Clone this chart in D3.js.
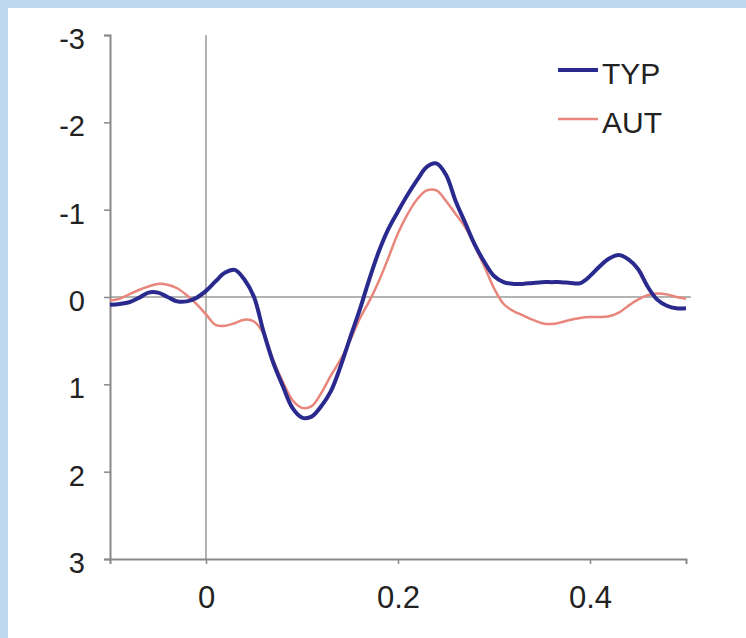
<!DOCTYPE html>
<html>
<head>
<meta charset="utf-8">
<title>TYP vs AUT</title>
<script src="https://d3js.org/d3.v7.min.js"></script>
<style type="text/css">
html, body {
	margin: 0;
	padding: 0;
	background: #bed8ef;
}
svg text {
	font-family: "Liberation Sans", Arial, sans-serif;
	fill: #222;
}
</style>
</head>
<body>
<div id="chart"></div>
<script type="text/javascript">
// time (s) sampled every 10 ms
var times = d3.range(-10, 51).map(function(i) { return i / 100; });

var typ = [0.09, 0.08, 0.06, 0.01, -0.05, -0.05, 0.0, 0.05, 0.05, 0.01,
	-0.07, -0.18, -0.28, -0.31, -0.2, 0.0, 0.4, 0.75, 1.02, 1.27,
	1.38, 1.37, 1.25, 1.08, 0.8, 0.47, 0.15, -0.2, -0.52, -0.78,
	-0.98, -1.17, -1.34, -1.49, -1.53, -1.4, -1.1, -0.85, -0.6, -0.4,
	-0.24, -0.17, -0.15, -0.15, -0.16, -0.17, -0.17, -0.17, -0.16, -0.16,
	-0.24, -0.35, -0.44, -0.48, -0.43, -0.32, -0.12, 0.03, 0.1, 0.13, 0.13];

var aut = [0.04, 0.02, -0.03, -0.08, -0.12, -0.15, -0.14, -0.1, -0.02, 0.08,
	0.2, 0.32, 0.33, 0.3, 0.26, 0.28, 0.42, 0.72, 0.97, 1.18,
	1.27, 1.25, 1.1, 0.9, 0.72, 0.5, 0.25, 0.05, -0.18, -0.45,
	-0.73, -0.95, -1.12, -1.22, -1.22, -1.1, -0.95, -0.8, -0.58, -0.35,
	-0.1, 0.08, 0.16, 0.21, 0.26, 0.3, 0.31, 0.29, 0.26, 0.24,
	0.23, 0.23, 0.22, 0.18, 0.1, 0.03, -0.02, -0.04, -0.03, 0.0, 0.02];

var xTicks = [0, 0.2, 0.4];
var yTicks = [-3, -2, -1, 0, 1, 2, 3];
var seriesNames = ["TYP", "AUT"];
var seriesColors = ["#2a2a8e", "#e8867c"];

var W = 746, H = 638;
var svg = d3.select("#chart").append("svg")
	.attr("width", W).attr("height", H);

/* white panel inside the blue frame */
svg.append("rect").attr("x", 8).attr("y", 8)
	.attr("width", W - 8).attr("height", H - 8).attr("fill", "#fff");

var x = d3.scaleLinear().domain([-0.1, 0.5]).range([110, 686]);
var y = d3.scaleLinear().domain([-3, 3]).range([35, 559]);

/* zero lines */
svg.append("line")
	.attr("x1", x(0)).attr("x2", x(0)).attr("y1", y(-3)).attr("y2", y(3))
	.attr("stroke", "#9a9a9a").attr("stroke-width", 1.5);
svg.append("line")
	.attr("x1", x(-0.1)).attr("x2", x(0.505)).attr("y1", y(0)).attr("y2", y(0))
	.attr("stroke", "#9a9a9a").attr("stroke-width", 1.5);

/* axes */
var yAxis = svg.append("g").attr("transform", "translate(" + x(-0.1) + ",0)")
	.call(d3.axisLeft(y).tickValues(yTicks).tickSize(6).tickPadding(19)
		.tickFormat(function(d) { return d3.format("d")(d).replace("\u2212", "-"); }));
var xAxis = svg.append("g").attr("transform", "translate(0," + y(3) + ")")
	.call(d3.axisBottom(x).tickValues(xTicks).tickSize(5).tickPadding(22)
		.tickFormat(function(d) { return d === 0 ? "0" : d3.format(".1f")(d); }));

[yAxis, xAxis].forEach(function(g) {
	g.select(".domain").attr("stroke", "#888").attr("stroke-width", 2);
	g.selectAll(".tick line").attr("stroke", "#888").attr("stroke-width", 1.5);
	g.selectAll(".tick text").attr("fill", "#2a2a2a");
});
yAxis.selectAll(".tick text").style("font-size", "29px").attr("dy", "0.46em");
xAxis.selectAll(".tick text").style("font-size", "31px");

/* curves */
var line = d3.line()
	.x(function(d) { return x(d[0]); })
	.y(function(d) { return y(d[1]); })
	.curve(d3.curveCatmullRom.alpha(0.5));

svg.append("path").datum(d3.zip(times, aut))
	.attr("d", line).attr("fill", "none")
	.attr("stroke", seriesColors[1]).attr("stroke-width", 2.5);
svg.append("path").datum(d3.zip(times, typ))
	.attr("d", line).attr("fill", "none")
	.attr("stroke", seriesColors[0]).attr("stroke-width", 4);

/* legend */
var legend = svg.selectAll("g.legend").data(seriesNames).enter()
	.append("g").attr("class", "legend")
	.attr("transform", function(d, i) { return "translate(558," + (70 + i * 49) + ")"; });
legend.append("line").attr("x1", 0).attr("x2", 40)
	.attr("stroke", function(d, i) { return seriesColors[i]; })
	.attr("stroke-width", function(d, i) { return i === 0 ? 4 : 2.5; });
legend.append("text").attr("x", 44).attr("y", 14)
	.style("font-size", "30px")
	.attr("fill", "#2a2a2a")
	.text(function(d) { return d; });
</script>
</body>
</html>
